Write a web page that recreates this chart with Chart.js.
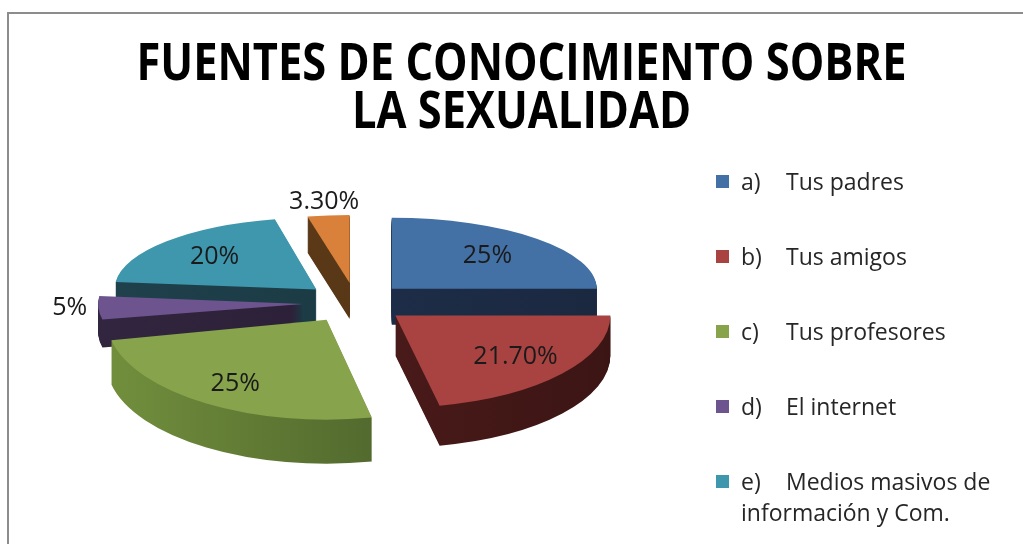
<!DOCTYPE html>
<html>
<head>
<meta charset="utf-8">
<script src="https://cdn.jsdelivr.net/npm/chart.js@4/dist/chart.umd.min.js"></script>
<style>
  html, body { margin: 0; padding: 0; background: #fff; overflow: hidden; }
  #wrap { position: relative; width: 1023px; height: 544px; }
  #frame { position: absolute; left: 7px; top: 12px; width: 1100px; height: 600px;
           border-left: 2px solid #8c8c8c; border-top: 2px solid #8c8c8c; }
  canvas { position: absolute; left: 0; top: 0; }
  #title { position: absolute; left: 10px; top: 36px; width: 1023px; text-align: center;
           font-family: 'Open Sans', sans-serif; font-weight: bold; font-size: 52px;
           line-height: 48px; color: #000; transform-origin: 50% 0; white-space: nowrap; }
  #legend { position: absolute; left: 0; top: 0; font-family: 'Open Sans', sans-serif;
            font-size: 23px; color: #262626; }
  .item { position: absolute; left: 716px; line-height: 31px; }
  .box { position: absolute; left: 0; top: 9px; width: 13px; height: 13px; }
  .txt { margin-left: 25px; width: 275px; }
  .tag { display: inline-block; width: 45px; }
</style>
</head>
<body>
<div id="wrap">
  <div id="frame"></div>
  <canvas id="chart" width="1023" height="544"></canvas>
  <div id="title"><span id="t1">FUENTES DE CONOCIMIENTO SOBRE</span><br><span>LA SEXUALIDAD</span></div>
  <div id="legend"></div>
</div>
<script>
// data
const letters = ['a)', 'b)', 'c)', 'd)', 'e)', 'f)'];
const categories = ['Tus padres', 'Tus amigos', 'Tus profesores', 'El internet',
                    'Medios masivos de información y Com.', ''];
const values = [25, 21.7, 25, 5, 20, 3.3];
const pctLabels = ['25%', '21.70%', '25%', '5%', '20%', '3.30%'];

// styles
const topColors = ['#4371a6', '#a84341', '#87a34c', '#6e548f', '#3f97ae', '#d9813a'];
const sideColors = [
  ['#22324e', '#1a2840'],
  ['#561f1e', '#3b1514'],
  ['#728f3d', '#3e5224'],
  ['#32253f', '#271c32'],
  ['#1f414c', '#18353e'],
  ['#633e1a', '#4e3113']
];
// front slices look bigger (perspective of the original)
const sliceRx = [205, 215, 220, 205, 202, 205];
const sliceRy = [71, 92, 100, 75, 72, 68];
const sliceDepth = [36, 40, 44, 28, 34, 36];
const labelRadius = [0.66, 0.72, 0.76, 1.14, 0.68, 1.2];
const PIE = { cx: 355, cy: 303, rx: 208, ry: 80, explode: 0.25 };

function midAngle(arc) {
  return (arc.startAngle + arc.endAngle) / 2;
}

function apex(arc) {
  const mid = midAngle(arc);
  return {
    x: PIE.cx + Math.cos(mid) * PIE.explode * PIE.rx,
    y: PIE.cy + Math.sin(mid) * PIE.explode * PIE.ry
  };
}

// squash the flat pie slice into an ellipse and pull it out from the centre
function place(ctx, arc, i, dy) {
  const R = arc.outerRadius;
  const p = apex(arc);
  ctx.translate(p.x, p.y + dy);
  ctx.scale(sliceRx[i] / R, sliceRy[i] / R);
  ctx.translate(-arc.x, -arc.y);
}

const pie3d = {
  id: 'pie3d',
  beforeDatasetsDraw(chart) {
    const ctx = chart.ctx;
    const arcs = chart.getDatasetMeta(0).data;
    const order = arcs.map((a, i) => i)
      .sort((i, j) => Math.sin(midAngle(arcs[i])) - Math.sin(midAngle(arcs[j])));

    // sides, back to front
    order.forEach(i => {
      const arc = arcs[i];
      const orig = arc.options;
      const R = arc.outerRadius;
      const g = ctx.createLinearGradient(arc.x - R, 0, arc.x + R, 0);
      g.addColorStop(0, sideColors[i][0]);
      g.addColorStop(1, sideColors[i][1]);
      arc.options = Object.assign({}, orig, { backgroundColor: g, borderWidth: 0 });
      for (let dy = sliceDepth[i]; dy > 0; dy--) {
        ctx.save();
        place(ctx, arc, i, dy);
        arc.draw(ctx);
        ctx.restore();
      }
      arc.options = orig;
    });

    // tops
    order.forEach(i => {
      ctx.save();
      place(ctx, arcs[i], i, 0);
      arcs[i].draw(ctx);
      ctx.restore();
    });

    // percentage labels
    ctx.save();
    ctx.font = '25px "Open Sans"';
    ctx.fillStyle = '#1a1a1a';
    ctx.textAlign = 'center';
    ctx.textBaseline = 'middle';
    arcs.forEach((arc, i) => {
      const mid = midAngle(arc);
      const p = apex(arc);
      ctx.fillText(pctLabels[i],
        p.x + Math.cos(mid) * labelRadius[i] * sliceRx[i],
        p.y + Math.sin(mid) * labelRadius[i] * sliceRy[i]);
    });
    ctx.restore();
    return false;
  }
};

new Chart(document.getElementById('chart'), {
  type: 'pie',
  data: {
    labels: categories.map((c, i) => letters[i] + ' ' + c),
    datasets: [{
      data: values,
      backgroundColor: topColors,
      borderWidth: 0,
      clip: false
    }]
  },
  options: {
    responsive: false,
    animation: false,
    radius: 160,
    plugins: {
      legend: { display: false },
      tooltip: { enabled: false }
    }
  },
  plugins: [pie3d]
});

// title squeezed to the width of the original
const title = document.getElementById('title');
const w1 = document.getElementById('t1').getBoundingClientRect().width;
title.style.transform = 'scaleX(' + (770 / w1) + ')';

// legend as html, built from the same arrays
const legend = document.getElementById('legend');
categories.forEach((c, i) => {
  if (!c) return;
  const item = document.createElement('div');
  item.className = 'item';
  item.style.top = (166 + i * 75) + 'px';
  item.innerHTML = '<span class="box" style="background:' + topColors[i] + '"></span>' +
    '<div class="txt"><span class="tag">' + letters[i] + '</span>' + c + '</div>';
  legend.appendChild(item);
});
</script>
</body>
</html>
